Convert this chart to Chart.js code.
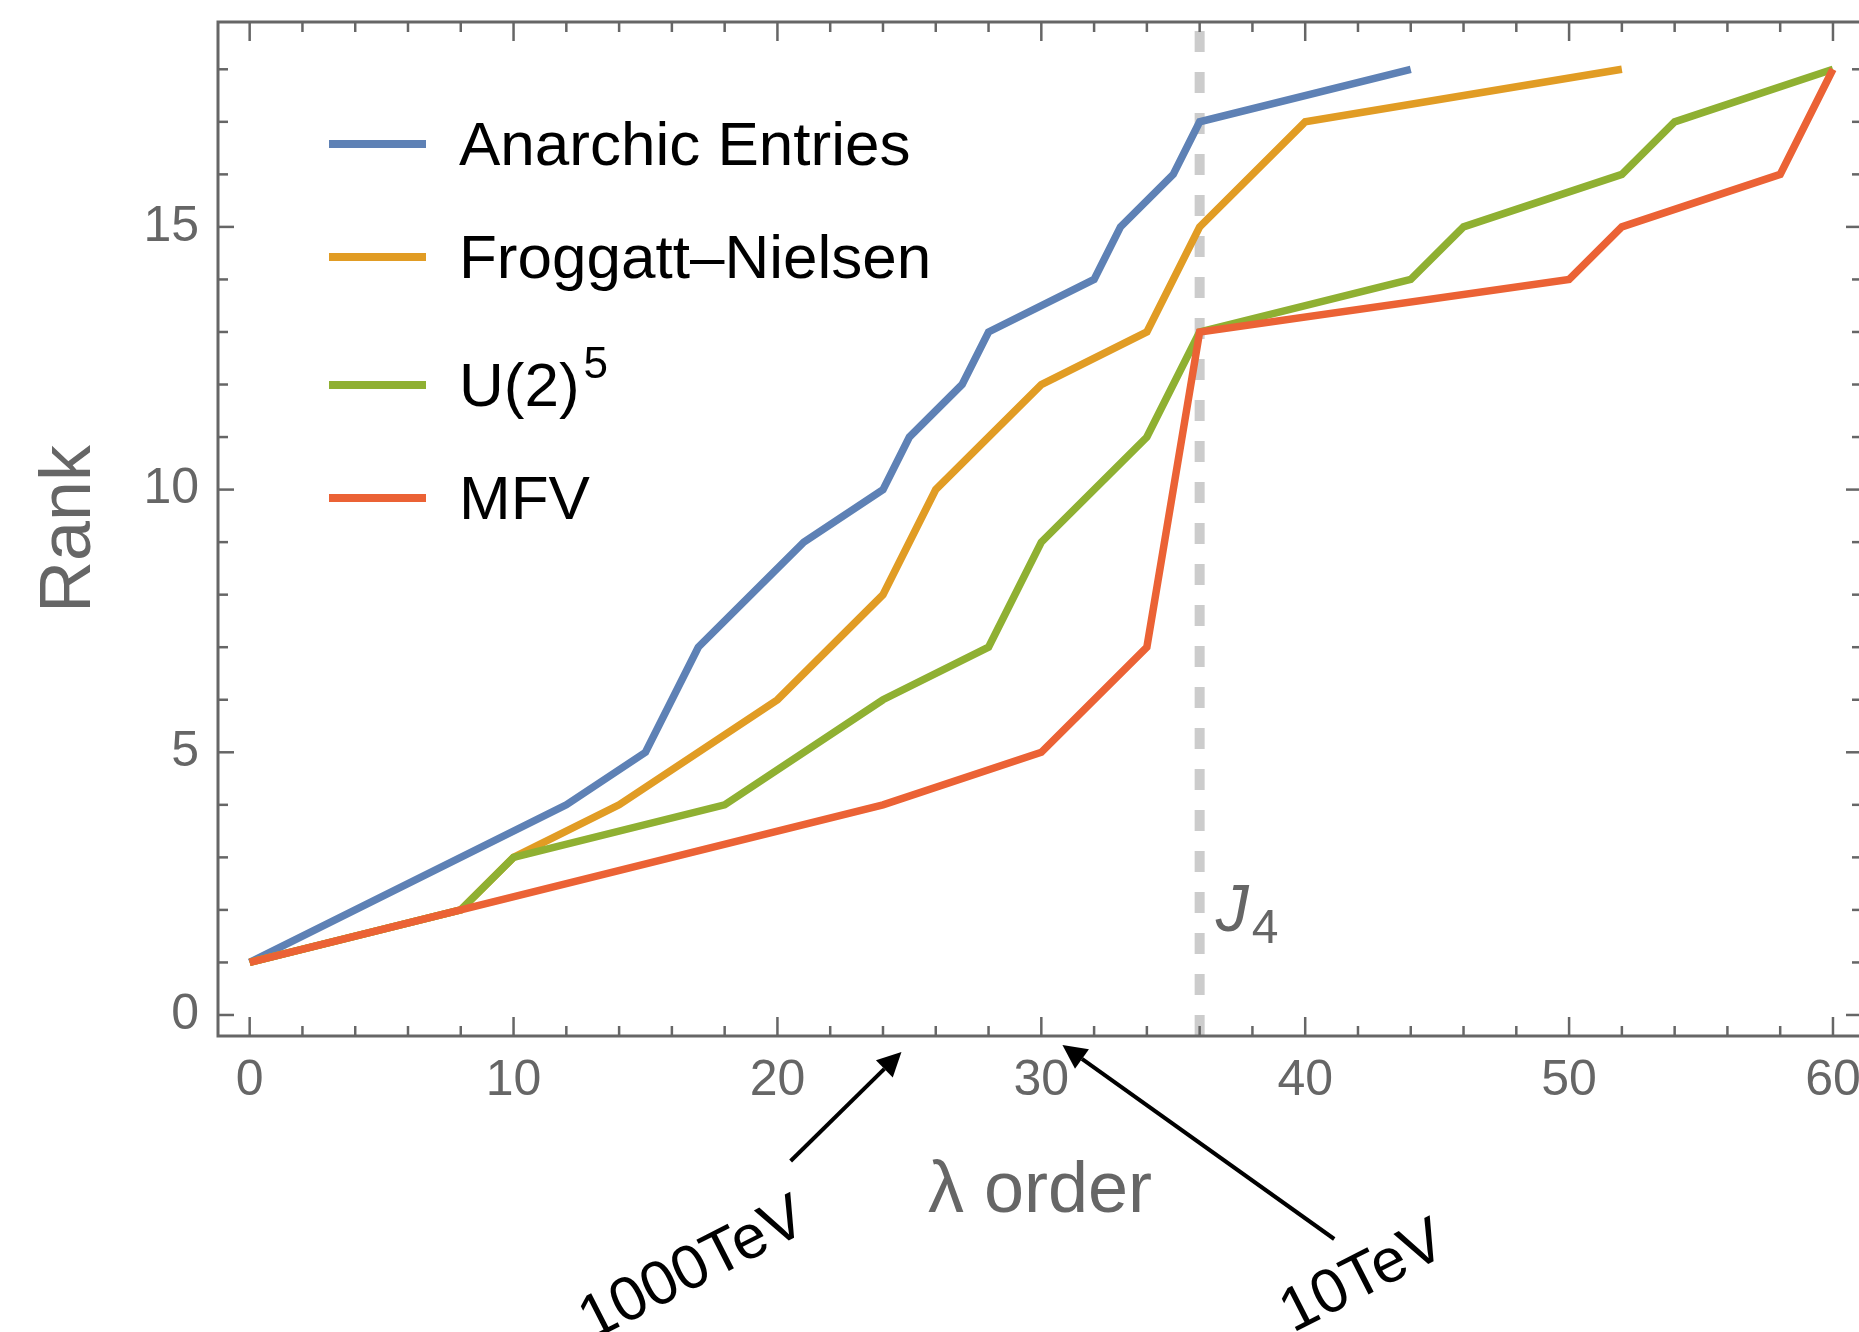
<!DOCTYPE html>
<html>
<head>
<meta charset="utf-8">
<script src="https://cdn.jsdelivr.net/npm/chart.js@4.4.1/dist/chart.umd.min.js"></script>
<style>
html,body{margin:0;padding:0;background:#fff;overflow:hidden;width:1859px;height:1332px}
#wrap{position:absolute;left:0;top:0;width:1866px;height:1332px}
</style>
</head>
<body>
<div id="wrap"><canvas id="c" width="1866" height="1332"></canvas></div>
<script>
// ---------------- data ----------------
const SERIES_NAMES = ['Anarchic Entries', 'Froggatt\u2013Nielsen', 'U(2)^5', 'MFV'];
const ANARCHIC_X = [0, 12, 15, 17, 21, 24, 25, 27, 28, 32, 33, 35, 36, 44];
const ANARCHIC_Y = [1, 4, 5, 7, 9, 10, 11, 12, 13, 14, 15, 16, 17, 18];
const FN_X = [0, 8, 10, 14, 20, 24, 26, 30, 34, 36, 40, 52];
const FN_Y = [1, 2, 3, 4, 6, 8, 10, 12, 13, 15, 17, 18];
const U25_X = [0, 8, 10, 18, 24, 28, 30, 34, 36, 44, 46, 52, 54, 60];
const U25_Y = [1, 2, 3, 4, 6, 7, 9, 11, 13, 14, 15, 16, 17, 18];
const MFV_X = [0, 8, 24, 30, 34, 36, 50, 52, 58, 60];
const MFV_Y = [1, 2, 4, 5, 7, 13, 14, 15, 16, 18];
const X_TICKS = [0, 10, 20, 30, 40, 50, 60];
const Y_TICKS = [0, 5, 10, 15];
const X_MINOR_STEP = 2;
const Y_MINOR_STEP = 1;
const X_RANGE = [-1.2, 61.1];
const Y_RANGE = [-0.4, 18.9];
const J4_ORDER = 36;
const J4_LABEL = ['J', '4'];
const ANNOT_TEXT = ['1000TeV', '10TeV'];
const ANNOT_TIP_X = [24.7, 30.8];
const ANNOT_TAIL_X = [20.5, 41.1];
const ANNOT_TEXT_X = [16.8, 42.2];

// ---------------- styles ----------------
const COLORS = ['#5E81B5', '#E19C24', '#8FB032', '#EB6235'];
const GRAY = '#666666';
const FONT = '"Liberation Sans", Arial, Helvetica, sans-serif';
Chart.defaults.font.family = FONT;

const toPts = (xs, ys) => xs.map((v, i) => ({x: v, y: ys[i]}));
const SERIES = [
  toPts(ANARCHIC_X, ANARCHIC_Y),
  toPts(FN_X, FN_Y),
  toPts(U25_X, U25_Y),
  toPts(MFV_X, MFV_Y)
];

const datasets = SERIES.map((pts, i) => ({
  label: SERIES_NAMES[i],
  data: pts,
  borderColor: COLORS[i],
  backgroundColor: COLORS[i],
  borderWidth: 7.5,
  pointRadius: 0,
  tension: 0,
  borderJoinStyle: 'miter',
  borderCapStyle: 'butt',
  fill: false,
  order: SERIES.length - 1 - i
}));
datasets.push({
  label: '',
  isGuide: true,
  data: [{x: J4_ORDER, y: Y_RANGE[0]}, {x: J4_ORDER, y: Y_RANGE[1]}],
  borderColor: '#CCCCCC',
  borderWidth: 10,
  borderDash: [21, 20],
  borderCapStyle: 'butt',
  pointRadius: 0,
  fill: false,
  order: 20
});

function seg(ctx, x1, y1, x2, y2) {
  ctx.beginPath(); ctx.moveTo(x1, y1); ctx.lineTo(x2, y2); ctx.stroke();
}

const decor = {
  id: 'decor',
  afterDatasetsDraw(chart) {
    const {ctx, chartArea: a, scales: {x, y}} = chart;
    ctx.save();
    // frame
    ctx.strokeStyle = GRAY;
    ctx.lineWidth = 3;
    ctx.strokeRect(a.left, a.top, a.right - a.left, a.bottom - a.top);
    // inward ticks
    ctx.lineWidth = 2.5;
    for (let v = X_TICKS[0]; v <= X_TICKS[X_TICKS.length - 1]; v += X_MINOR_STEP) {
      const px = x.getPixelForValue(v);
      const len = X_TICKS.includes(v) ? 19 : 10;
      seg(ctx, px, a.bottom, px, a.bottom - len);
      seg(ctx, px, a.top, px, a.top + len);
    }
    for (let v = 0; v <= 18; v += Y_MINOR_STEP) {
      const py = y.getPixelForValue(v);
      const len = Y_TICKS.includes(v) ? 16 : 10;
      seg(ctx, a.left, py, a.left + len, py);
      seg(ctx, a.right, py, a.right - len, py);
    }
    // J4 label
    const jx = x.getPixelForValue(J4_ORDER);
    ctx.fillStyle = GRAY;
    ctx.textAlign = 'left';
    ctx.textBaseline = 'alphabetic';
    ctx.font = 'italic 66px ' + FONT;
    ctx.fillText(J4_LABEL[0], jx + 16, a.bottom - 105);
    ctx.font = '48px ' + FONT;
    ctx.fillText(J4_LABEL[1], jx + 52, a.bottom - 93);

    // legend
    let ry = a.top + 122;
    chart.data.datasets.forEach((d) => {
      if (d.isGuide) return;
      if (d.label.includes('^')) ry += 15;
      ctx.strokeStyle = d.borderColor;
      ctx.lineWidth = 8;
      ctx.lineCap = 'butt';
      seg(ctx, a.left + 111, ry, a.left + 208, ry);
      const parts = d.label.split('^');
      ctx.fillStyle = '#000';
      ctx.font = '62px ' + FONT;
      ctx.fillText(parts[0], a.left + 241, ry + 21);
      if (parts[1]) {
        const w = ctx.measureText(parts[0]).width;
        ctx.font = '44px ' + FONT;
        ctx.fillText(parts[1], a.left + 241 + w + 4, ry - 7);
      }
      ry += 113;
    });

    // annotations below axis
    const tipDy = [16, 9], tailDy = [125, 203], textDy = [234, 242];
    ANNOT_TEXT.forEach((t, i) => {
      const tx = x.getPixelForValue(ANNOT_TIP_X[i]), ty = a.bottom + tipDy[i];
      const sx = x.getPixelForValue(ANNOT_TAIL_X[i]), sy = a.bottom + tailDy[i];
      const ang = Math.atan2(ty - sy, tx - sx);
      const hl = 24, hw = 12;
      const bx = tx - hl * Math.cos(ang), by = ty - hl * Math.sin(ang);
      ctx.strokeStyle = '#000';
      ctx.lineWidth = 4;
      seg(ctx, sx, sy, bx, by);
      ctx.fillStyle = '#000';
      ctx.beginPath();
      ctx.moveTo(tx, ty);
      ctx.lineTo(bx + hw * Math.sin(ang), by - hw * Math.cos(ang));
      ctx.lineTo(bx - hw * Math.sin(ang), by + hw * Math.cos(ang));
      ctx.closePath();
      ctx.fill();
      // rotated label
      ctx.save();
      ctx.translate(x.getPixelForValue(ANNOT_TEXT_X[i]), a.bottom + textDy[i]);
      ctx.rotate(-27 * Math.PI / 180);
      ctx.font = '62px ' + FONT;
      ctx.textAlign = 'center';
      ctx.textBaseline = 'middle';
      ctx.fillText(t, 0, 0);
      ctx.restore();
    });
    ctx.restore();
  }
};

new Chart(document.getElementById('c'), {
  type: 'line',
  data: {datasets},
  options: {
    responsive: false,
    animation: false,
    devicePixelRatio: 1,
    layout: {padding: {top: 22, right: 4, bottom: 0, left: 0}},
    plugins: {legend: {display: false}, tooltip: {enabled: false}},
    scales: {
      x: {
        type: 'linear',
        position: 'bottom',
        min: X_RANGE[0], max: X_RANGE[1],
        afterBuildTicks: s => { s.ticks = X_TICKS.map(v => ({value: v})); },
        afterFit: s => { s.height = 296; s.paddingLeft = 0; s.paddingRight = 0; },
        grid: {display: false, drawTicks: false},
        border: {display: false},
        ticks: {font: {size: 50}, color: GRAY, padding: 15, maxRotation: 0, autoSkip: false},
        title: {display: true, text: '\u03BB order', color: GRAY, font: {size: 72}, padding: {top: 0, bottom: 97}}
      },
      y: {
        type: 'linear',
        position: 'left',
        min: Y_RANGE[0], max: Y_RANGE[1],
        afterBuildTicks: s => { s.ticks = Y_TICKS.map(v => ({value: v})); },
        afterFit: s => { s.width = 218; s.paddingTop = 0; s.paddingBottom = 0; },
        grid: {display: false, drawTicks: false},
        border: {display: false},
        ticks: {font: {size: 50}, color: GRAY, padding: 19, autoSkip: false},
        title: {display: true, text: 'Rank', color: GRAY, font: {size: 72}, padding: {top: 27, bottom: 0}}
      }
    }
  },
  plugins: [decor]
});
</script>
</body>
</html>
